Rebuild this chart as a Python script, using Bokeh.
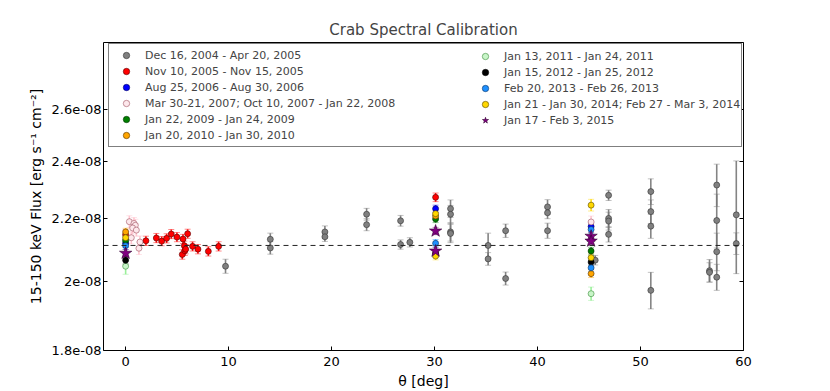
from bokeh.plotting import figure
from bokeh.models import (ColumnDataSource, Whisker, TeeHead, Span, Range1d, FixedTicker,
                          LinearAxis, LogAxis, Legend, LegendItem, CustomJSTickFormatter)
from bokeh.embed import file_html
from bokeh.resources import INLINE

FLUX_UNIT = 1e-8
mean_flux = 2.113

x_ticks = [0, 10, 20, 30, 40, 50, 60]
y_ticks = [1.8, 2.0, 2.2, 2.4, 2.6]
y_tick_labels = ["1.8e-08", "2e-08", "2.2e-08", "2.4e-08", "2.6e-08"]

# Dec 16, 2004 - Apr 20, 2005 (gray)
gray_theta = [9.7, 14.05, 14.05, 19.35, 19.35, 23.4, 23.4, 26.7, 26.7, 27.6,
              31.55, 31.55, 31.55, 31.55, 35.2, 35.2, 36.9, 36.9, 40.97, 40.97, 40.97,
              45.6, 46.9, 46.9, 46.9, 46.9, 51.0, 51.0, 51.0, 51.0, 56.7, 56.7,
              57.4, 57.4, 57.4, 57.4, 59.3, 59.3]
gray_flux = [2.047, 2.133, 2.105, 2.157, 2.141, 2.216, 2.181, 2.194, 2.116, 2.123,
             2.235, 2.216, 2.157, 2.152, 2.113, 2.070, 2.161, 2.009, 2.241, 2.221, 2.161,
             2.066, 2.281, 2.202, 2.193, 2.149, 2.294, 2.225, 2.176, 1.973, 2.033, 2.028,
             2.317, 2.195, 2.093, 2.013, 2.214, 2.119]
gray_err = [0.022, 0.02, 0.02, 0.02, 0.015, 0.02, 0.02, 0.018, 0.015, 0.015,
            0.03, 0.03, 0.03, 0.03, 0.04, 0.02, 0.022, 0.02, 0.025, 0.02, 0.025,
            0.015, 0.018, 0.03, 0.03, 0.025, 0.045, 0.04, 0.04, 0.055, 0.035, 0.03,
            0.075, 0.09, 0.06, 0.04, 0.19, 0.035]

# Nov 10, 2005 - Nov 15, 2005 (red)
red_theta = [0.0, 1.97, 2.98, 3.5, 3.98, 4.43, 4.98, 5.5, 5.57, 5.7, 5.75, 5.83, 6.02,
             6.5, 7.02, 8.03, 9.03, 30.1]
red_flux = [2.148, 2.128, 2.137, 2.127, 2.136, 2.150, 2.140, 2.084, 2.134, 2.112, 2.096,
            2.101, 2.151, 2.110, 2.101, 2.094, 2.110, 2.274]
red_err = [0.015] * 18

# Aug 25, 2006 - Aug 30, 2006 (blue)
blue_theta = [0.0, 30.1, 45.2]
blue_flux = [2.120, 2.235, 2.175]
blue_err = [0.012, 0.012, 0.012]

# Mar 30-21, 2007; Oct 10, 2007 - Jan 22, 2008 (pink, open)
pink_theta = [0.36, 0.81, 0.94, 0.68, 1.04, 0.55, 1.39, 1.29, 45.2]
pink_flux = [2.191, 2.185, 2.179, 2.170, 2.163, 2.138, 2.124, 2.104, 2.190]
pink_err = [0.02] * 9

# Jan 22, 2009 - Jan 24, 2009 (green)
green_theta = [0.0, 30.1, 45.2]
green_flux = [2.129, 2.200, 2.095]
green_err = [0.012, 0.012, 0.012]

# Jan 20, 2010 - Jan 30, 2010 (orange)
orange_theta = [0.0, 30.1, 45.2]
orange_flux = [2.157, 2.210, 2.024]
orange_err = [0.012, 0.012, 0.012]

# Jan 13, 2011 - Jan 24, 2011 (light green, open)
lgreen_theta = [0.0, 45.2]
lgreen_flux = [2.047, 1.963]
lgreen_err = [0.025, 0.02]

# Jan 15, 2012 - Jan 25, 2012 (black)
black_theta = [0.0, 30.1, 45.2]
black_flux = [2.066, 2.088, 2.060]
black_err = [0.012, 0.012, 0.012]

# Feb 20, 2013 - Feb 26, 2013 (light blue)
lblue_theta = [0.0, 30.1, 45.2, 45.2]
lblue_flux = [2.112, 2.120, 2.165, 2.042]
lblue_err = [0.012, 0.012, 0.012, 0.012]

# Jan 21 - Jan 30, 2014; Feb 27 - Mar 3, 2014 (yellow)
yellow_theta = [0.0, 30.1, 30.1, 45.2, 45.2]
yellow_flux = [2.138, 2.218, 2.079, 2.247, 2.074]
yellow_err = [0.012, 0.012, 0.012, 0.02, 0.012]

# Jan 17 - Feb 3, 2015 (purple stars)
purple_theta = [0.0, 30.1, 30.1, 45.2, 45.2]
purple_flux = [2.088, 2.160, 2.095, 2.143, 2.127]
purple_err = [0.012, 0.012, 0.012, 0.012, 0.012]

series = [
    ("Dec 16, 2004 - Apr 20, 2005", gray_theta, gray_flux, gray_err, "#808080", "#333333", "#777777", "circle", 6),
    ("Nov 10, 2005 - Nov 15, 2005", red_theta, red_flux, red_err, "red", "#550000", "red", "circle", 6),
    ("Aug 25, 2006 - Aug 30, 2006", blue_theta, blue_flux, blue_err, "blue", "#000055", "blue", "circle", 6),
    ("Mar 30-21, 2007; Oct 10, 2007 - Jan 22, 2008", pink_theta, pink_flux, pink_err, "#fde8ec", "#a0505f", "pink", "circle", 6),
    ("Jan 22, 2009 - Jan 24, 2009", green_theta, green_flux, green_err, "green", "#003300", "green", "circle", 6),
    ("Jan 20, 2010 - Jan 30, 2010", orange_theta, orange_flux, orange_err, "orange", "#553300", "orange", "circle", 6),
    ("Jan 13, 2011 - Jan 24, 2011", lgreen_theta, lgreen_flux, lgreen_err, "#c8f5c8", "#3c8c3c", "lightgreen", "circle", 6),
    ("Jan 15, 2012 - Jan 25, 2012", black_theta, black_flux, black_err, "black", "black", "black", "circle", 6),
    ("Feb 20, 2013 - Feb 26, 2013", lblue_theta, lblue_flux, lblue_err, "dodgerblue", "#0a3060", "dodgerblue", "circle", 6),
    ("Jan 21 - Jan 30, 2014; Feb 27 - Mar 3, 2014", yellow_theta, yellow_flux, yellow_err, "gold", "#554400", "gold", "circle", 6),
    ("Jan 17 - Feb 3, 2015", purple_theta, purple_flux, purple_err, "purple", "#300030", "purple", "star", 13),
]

FONT = "DejaVu Sans"

p = figure(width=830, height=391, output_backend="svg", toolbar_location=None,
           y_axis_type="log",
           x_range=Range1d(-2.15, 60), y_range=Range1d(1.8e-8, 2.88e-8),
           min_border_left=103, min_border_right=87, min_border_top=42, min_border_bottom=40,
           background_fill_color="white", border_fill_color="white")

p.title.text = "Crab Spectral Calibration"
p.title.align = "center"
p.title.text_font = FONT
p.title.text_font_size = "15px"
p.title.text_font_style = "normal"
p.title.standoff = 7

p.xgrid.visible = False
p.ygrid.visible = False
p.outline_line_color = "black"
p.outline_line_width = 1

blank = CustomJSTickFormatter(code="return '';")
ylab = CustomJSTickFormatter(args=dict(vals=[v * FLUX_UNIT for v in y_ticks], labs=y_tick_labels),
                             code="""
for (let i = 0; i < vals.length; i++) {
  if (Math.abs(tick - vals[i]) < 1e-12) { return labs[i]; }
}
return '';
""")

xax = p.xaxis[0]
xax.ticker = FixedTicker(ticks=x_ticks)
xax.axis_label = "θ [deg]"
yax = p.yaxis[0]
yax.ticker = FixedTicker(ticks=[v * FLUX_UNIT for v in y_ticks])
yax.formatter = ylab
yax.axis_label = "15-150 keV Flux [erg s⁻¹ cm⁻²]"

for ax in (xax, yax):
    ax.axis_line_color = None
    ax.major_tick_in = 4
    ax.major_tick_out = 0
    ax.minor_tick_line_color = None
    ax.major_tick_line_color = "black"
    ax.major_label_text_font = FONT
    ax.major_label_text_font_size = "13px"
    ax.major_label_text_color = "black"
    ax.axis_label_text_font = FONT
    ax.axis_label_text_font_size = "14px"
    ax.axis_label_text_font_style = "normal"
    ax.axis_label_text_color = "black"
xax.major_label_standoff = 6
xax.axis_label_standoff = 4
yax.major_label_standoff = 2
yax.axis_label_standoff = 5

top_ax = LinearAxis(ticker=FixedTicker(ticks=x_ticks), formatter=blank)
right_ax = LogAxis(ticker=FixedTicker(ticks=[v * FLUX_UNIT for v in y_ticks]), formatter=blank)
for ax in (top_ax, right_ax):
    ax.axis_line_color = None
    ax.major_tick_in = 4
    ax.major_tick_out = 0
    ax.minor_tick_line_color = None
    ax.major_tick_line_color = "black"
    ax.major_label_text_font_size = "0px"
    ax.major_label_standoff = 0
p.add_layout(top_ax, "above")
p.add_layout(right_ax, "right")

p.add_layout(Span(location=mean_flux * FLUX_UNIT, dimension="width", line_color="#222222",
                  line_dash="5 4", line_width=1))

renderers = []
for label, th, fl, er, fill, edge, ecol, marker, size in series:
    y = [f * FLUX_UNIT for f in fl]
    lo = [(f - e) * FLUX_UNIT for f, e in zip(fl, er)]
    hi = [(f + e) * FLUX_UNIT for f, e in zip(fl, er)]
    src = ColumnDataSource(dict(x=th, y=y, lo=lo, hi=hi))
    w = Whisker(source=src, base="x", lower="lo", upper="hi", dimension="height",
                line_color=ecol, line_width=1.6, line_alpha=0.9,
                upper_head=TeeHead(size=6, line_color=ecol, line_width=1, line_alpha=0.45),
                lower_head=TeeHead(size=6, line_color=ecol, line_width=1, line_alpha=0.45))
    p.add_layout(w)
    r = p.scatter("x", "y", source=src, marker=marker, size=size, fill_color=fill,
                  line_color=edge, line_width=0.6)
    renderers.append((label, r))

common = dict(label_text_font=FONT, label_text_font_size="11px", label_height=16,
              glyph_height=16, glyph_width=28, label_standoff=5, spacing=0, padding=3,
              margin=0)
leg1 = Legend(items=[LegendItem(label=l, renderers=[r]) for l, r in renderers[:6]],
              location=(5, 203), label_width=593, border_line_color="black",
              border_line_width=1, background_fill_color="white", background_fill_alpha=1.0,
              **common)
leg2 = Legend(items=[LegendItem(label=l, renderers=[r]) for l, r in renderers[6:]],
              location=(365, 219), border_line_alpha=0, background_fill_alpha=0.0,
              **common)
p.add_layout(leg1)
p.add_layout(leg2)

open("out.html", "w").write(file_html(p, INLINE))
